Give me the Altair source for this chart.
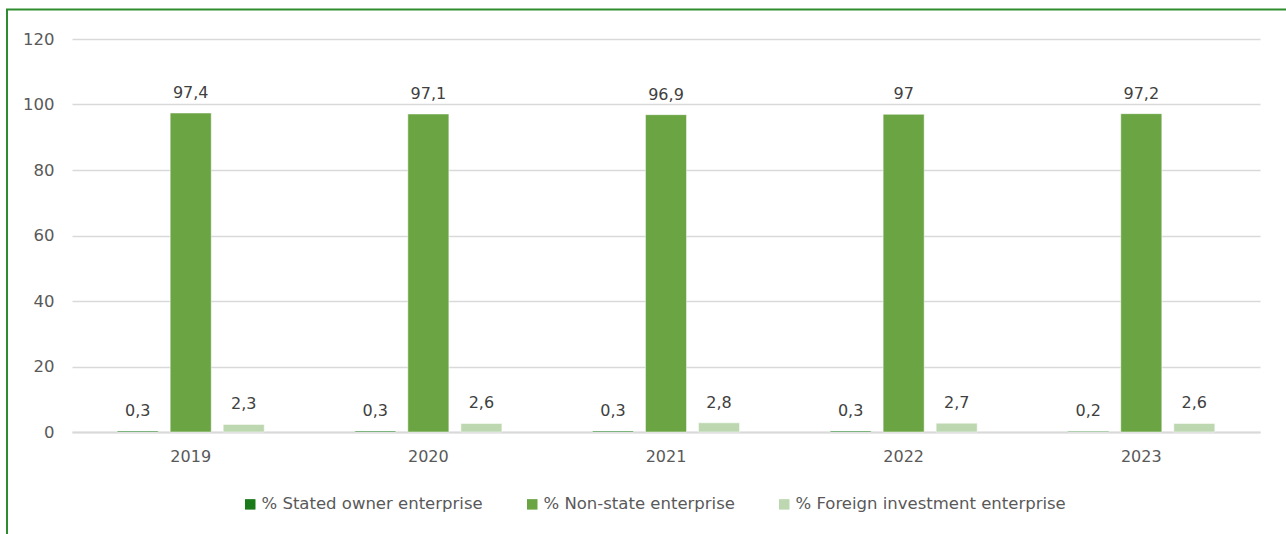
import altair as alt
import pandas as pd

years = ["2019", "2020", "2021", "2022", "2023"]
series = ["% Stated owner enterprise", "% Non-state enterprise", "% Foreign investment enterprise"]
stated = [0.3, 0.3, 0.3, 0.3, 0.2]
nonstate = [97.4, 97.1, 96.9, 97.0, 97.2]
foreign = [2.3, 2.6, 2.8, 2.7, 2.6]
colors = ["#1A7A1A", "#6AA443", "#BDD8B1"]

rows = []
for i, y in enumerate(years):
    for s, vals in zip(series, [stated, nonstate, foreign]):
        rows.append({"year": y, "series": s, "value": vals[i]})
df = pd.DataFrame(rows)

FONT = "DejaVu Sans"
TXT = "#595959"

base = alt.Chart(df).encode(
    x=alt.X("year:N", sort=years, title=None,
            scale=alt.Scale(paddingInner=0.381, paddingOuter=0.19),
            axis=alt.Axis(labelAngle=0, labelFontSize=16, labelColor=TXT, labelFont=FONT, grid=False,
                          domainColor="#D9D9D9", domainWidth=2, ticks=False, labelPadding=16)),
    xOffset=alt.XOffset("series:N", sort=series, scale=alt.Scale(paddingInner=0.226, paddingOuter=0)),
)

bars = base.mark_bar(stroke="white", strokeWidth=0.5).encode(
    y=alt.Y("value:Q", title=None,
            scale=alt.Scale(domain=[0, 120], nice=False),
            axis=alt.Axis(values=[0, 20, 40, 60, 80, 100, 120], labelFontSize=16.5, labelColor=TXT,
                          labelFont=FONT, domain=False, ticks=False, labelPadding=18,
                          gridColor="#D9D9D9", gridWidth=1.5)),
    color=alt.Color("series:N", sort=series, scale=alt.Scale(domain=series, range=colors),
                    legend=alt.Legend(title=None, orient="none", legendX=170, legendY=457,
                                      direction="horizontal", symbolType="square", symbolSize=110,
                                      symbolStrokeWidth=0, labelFontSize=16.5, labelColor=TXT, labelFont=FONT,
                                      labelLimit=400, columnPadding=41, labelOffset=3)),
)

labels = base.transform_calculate(
    lbl="replace(toString(datum.value), '.', ',')"
).mark_text(dy=-15, baseline="alphabetic", fontSize=16, color="#404040", font=FONT).encode(
    y="value:Q", text="lbl:N"
)

border = alt.Chart(pd.DataFrame({"a": [0]})).mark_rect(
    filled=False, stroke="#2E8B2E", strokeWidth=2
).encode(x=alt.value(-65), x2=alt.value(1300), y=alt.value(-29.5), y2=alt.value(600))

chart = alt.layer(bars, labels, border).properties(
    width=1188, height=393,
    padding={"left": 72, "top": 39, "right": 26, "bottom": 102},
    autosize=alt.AutoSizeParams(type="none"),
    background="white",
).configure_view(stroke=None)

chart.save("out.html", embed_options={"renderer": "svg", "actions": False})
